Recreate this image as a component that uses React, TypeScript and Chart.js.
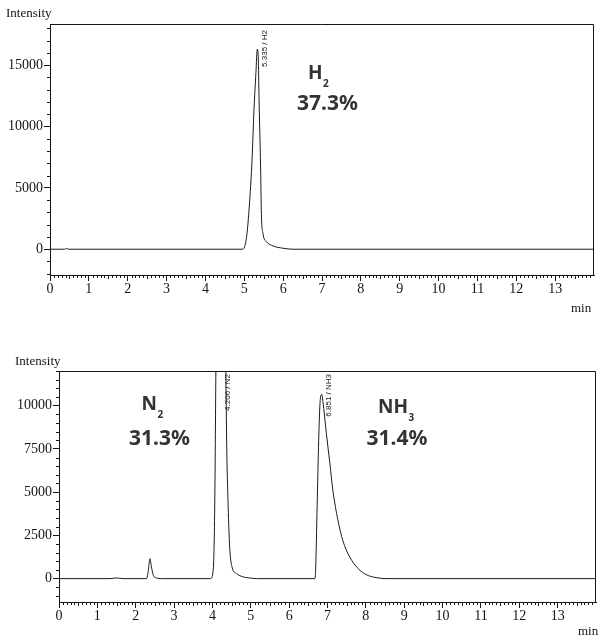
import React, { useEffect, useRef } from 'react';
import { Chart, registerables } from 'chart.js';

Chart.register(...registerables);

// ---------------- Data ----------------
// Top chromatogram (H2)
const h2Time = [0, 0.38, 0.43, 0.48, 4.95, 5.01, 5.07, 5.14, 5.2, 5.25, 5.3, 5.335, 5.36, 5.38, 5.42, 5.44, 5.48, 5.57, 5.74, 6.0, 6.25, 14];
const h2Intensity = [0, 0, 60, 0, 0, 220, 1300, 4000, 7300, 11400, 14400, 16300, 15600, 12200, 6700, 2900, 1300, 620, 270, 80, 0, 0];

// Bottom chromatogram (N2, NH3)
const nTime = [0, 1.33, 1.5, 1.67, 2.28, 2.33, 2.37, 2.41, 2.46, 2.54, 2.67, 3.95, 4.02, 4.06, 4.09, 4.15, 4.206, 4.27, 4.35, 4.37, 4.41, 4.45, 4.51, 4.63, 4.8, 4.97, 5.15, 6.67, 6.69, 6.73, 6.77, 6.81, 6.851, 6.88, 6.97, 7.06, 7.14, 7.27, 7.4, 7.58, 7.8, 8.01, 8.27, 8.53, 14];
const nIntensity = [0, 0, 40, 0, 0, 480, 1150, 680, 190, 40, 0, 0, 480, 4200, 12000, 27000, 33000, 24000, 12000, 8000, 4200, 1800, 680, 290, 100, 40, 0, 0, 480, 4200, 8000, 10300, 10650, 10250, 8400, 6700, 5100, 3400, 2200, 1250, 580, 230, 60, 0, 0];

// Ticks
const xTickValues = [0, 1, 2, 3, 4, 5, 6, 7, 8, 9, 10, 11, 12, 13];
const topYTicks = [0, 5000, 10000, 15000];
const bottomYTicks = [0, 2500, 5000, 7500, 10000];

// Peak annotations
const topPeakTimes = [5.335];
const topPeakNames = ['5.335 / H2'];
const bottomPeakTimes = [4.206, 6.851];
const bottomPeakNames = ['4.206 / N2', '6.851 / NH3'];

// Composition labels
const topGasMain = ['H'];
const topGasSub = ['2'];
const topGasPct = ['37.3%'];
const bottomGasMain = ['N', 'NH'];
const bottomGasSub = ['2', '3'];
const bottomGasPct = ['31.3%', '31.4%'];

const SERIF = '"Liberation Serif", "DejaVu Serif", serif';
const SANS = '"Liberation Sans", Arial, sans-serif';
const BOLD = '"Noto Sans", "Open Sans", sans-serif';
const INK = '#151515';

type GasPos = { mainX: number; mainY: number; pctX: number; pctY: number };

type Spec = {
  canvasTop: number;
  height: number;
  padTop: number;
  padRight: number;
  yWidth: number;
  xHeight: number;
  yMin: number;
  yMax: number;
  yMinorStep: number;
  yMajorStep: number;
  yTicks: number[];
  time: number[];
  intensity: number[];
  peakTimes: number[];
  peakNames: string[];
  peakTopOffset: number;
  gasMain: string[];
  gasSub: string[];
  gasPct: string[];
  gasPos: GasPos[];
  intensityX: number;
  intensityY: number;
  minX: number;
  minY: number;
};

function makeDecorPlugin(spec: Spec) {
  return {
    id: 'chromDecor',
    afterDraw(chart: any) {
      const ctx = chart.ctx as CanvasRenderingContext2D;
      const { left, right, top, bottom } = chart.chartArea;
      const xs = chart.scales.x;
      const ys = chart.scales.y;
      ctx.save();
      ctx.strokeStyle = INK;
      ctx.lineWidth = 1;
      // frame top & right
      ctx.beginPath();
      ctx.moveTo(left, Math.round(top) + 0.5);
      ctx.lineTo(Math.round(right) - 0.5, Math.round(top) + 0.5);
      ctx.lineTo(Math.round(right) - 0.5, Math.round(bottom));
      ctx.stroke();
      // minor x ticks
      ctx.beginPath();
      for (let i = 1; i < 140; i++) {
        if (i % 10 === 0) continue;
        const px = Math.round(xs.getPixelForValue(i / 10)) + 0.5;
        const len = i % 5 === 0 ? 4 : 3;
        ctx.moveTo(px, Math.round(bottom));
        ctx.lineTo(px, Math.round(bottom) + len);
      }
      // minor y ticks
      const start = Math.ceil(spec.yMin / spec.yMinorStep);
      const end = Math.floor(spec.yMax / spec.yMinorStep);
      for (let k = start; k <= end; k++) {
        const v = k * spec.yMinorStep;
        if (v % spec.yMajorStep === 0) continue;
        const py = Math.round(ys.getPixelForValue(v)) + 0.5;
        ctx.moveTo(Math.round(left) - 3, py);
        ctx.lineTo(Math.round(left), py);
      }
      ctx.stroke();

      // peak annotations (rotated)
      ctx.fillStyle = INK;
      ctx.font = `8px ${SANS}`;
      spec.peakTimes.forEach((t, i) => {
        const px = xs.getPixelForValue(t) + 7;
        ctx.save();
        ctx.translate(px, top + spec.peakTopOffset);
        ctx.rotate(-Math.PI / 2);
        ctx.textAlign = 'right';
        ctx.textBaseline = 'middle';
        ctx.fillText(spec.peakNames[i], 0, 0);
        ctx.restore();
      });

      // composition labels
      ctx.fillStyle = '#333333';
      ctx.textAlign = 'left';
      ctx.textBaseline = 'alphabetic';
      spec.gasMain.forEach((m, i) => {
        const p = spec.gasPos[i];
        ctx.font = `bold 19px ${BOLD}`;
        ctx.fillText(m, p.mainX, p.mainY);
        const w = ctx.measureText(m).width;
        ctx.font = `bold 10px ${BOLD}`;
        ctx.fillText(spec.gasSub[i], p.mainX + w + 0.5, p.mainY + 8);
        ctx.font = `bold 21px ${BOLD}`;
        ctx.fillText(spec.gasPct[i], p.pctX, p.pctY);
      });

      // axis titles
      ctx.fillStyle = INK;
      ctx.font = `13px ${SERIF}`;
      ctx.textBaseline = 'middle';
      ctx.fillText('Intensity', spec.intensityX, spec.intensityY);
      ctx.fillText('min', spec.minX, spec.minY);
      ctx.restore();
    },
  };
}

function makeConfig(spec: Spec): any {
  const data = spec.time.map((t, i) => ({ x: t, y: spec.intensity[i] }));
  return {
    type: 'line',
    data: {
      datasets: [
        {
          data,
          borderColor: '#1a1a1a',
          borderWidth: 1,
          pointRadius: 0,
          cubicInterpolationMode: 'monotone',
          fill: false,
        },
      ],
    },
    options: {
      responsive: false,
      animation: false,
      events: [],
      layout: { padding: { top: spec.padTop, right: spec.padRight, left: 0, bottom: 0 } },
      plugins: { legend: { display: false }, tooltip: { enabled: false }, title: { display: false } },
      scales: {
        x: {
          type: 'linear',
          min: 0,
          max: 14,
          afterBuildTicks: (s: any) => {
            s.ticks = xTickValues.map((v) => ({ value: v }));
          },
          afterFit: (s: any) => {
            s.height = spec.xHeight;
          },
          ticks: {
            autoSkip: false,
            maxRotation: 0,
            padding: 0,
            color: INK,
            font: { family: SERIF, size: 14 },
            callback: (v: any) => String(v),
          },
          grid: { display: true, drawOnChartArea: false, drawTicks: true, tickLength: 6, color: INK, lineWidth: 1 },
          border: { display: true, color: INK, width: 1 },
        },
        y: {
          type: 'linear',
          min: spec.yMin,
          max: spec.yMax,
          afterBuildTicks: (s: any) => {
            s.ticks = spec.yTicks.map((v) => ({ value: v }));
          },
          afterFit: (s: any) => {
            s.width = spec.yWidth;
          },
          ticks: {
            padding: 1,
            color: INK,
            font: { family: SERIF, size: 14 },
            callback: (v: any) => String(v),
          },
          grid: { display: true, drawOnChartArea: false, drawTicks: true, tickLength: 6, color: INK, lineWidth: 1 },
          border: { display: true, color: INK, width: 1 },
        },
      },
    },
    plugins: [makeDecorPlugin(spec)],
  };
}

const topSpec: Spec = {
  canvasTop: 0,
  height: 320,
  padTop: 24,
  padRight: 8,
  yWidth: 50,
  xHeight: 45,
  yMin: -2100,
  yMax: 18350,
  yMinorStep: 1000,
  yMajorStep: 5000,
  yTicks: topYTicks,
  time: h2Time,
  intensity: h2Intensity,
  peakTimes: topPeakTimes,
  peakNames: topPeakNames,
  peakTopOffset: 6,
  gasMain: topGasMain,
  gasSub: topGasSub,
  gasPct: topGasPct,
  gasPos: [{ mainX: 308, mainY: 79, pctX: 297, pctY: 110 }],
  intensityX: 6,
  intensityY: 14,
  minX: 571,
  minY: 309,
};

const bottomSpec: Spec = {
  canvasTop: 330,
  height: 309,
  padTop: 41,
  padRight: 6,
  yWidth: 59,
  xHeight: 37,
  yMin: -1350,
  yMax: 12000,
  yMinorStep: 500,
  yMajorStep: 2500,
  yTicks: bottomYTicks,
  time: nTime,
  intensity: nIntensity,
  peakTimes: bottomPeakTimes,
  peakNames: bottomPeakNames,
  peakTopOffset: 3,
  gasMain: bottomGasMain,
  gasSub: bottomGasSub,
  gasPct: bottomGasPct,
  gasPos: [
    { mainX: 141.5, mainY: 80, pctX: 129, pctY: 115 },
    { mainX: 378, mainY: 83, pctX: 366.5, pctY: 115 },
  ],
  intensityX: 15,
  intensityY: 32,
  minX: 578,
  minY: 302,
};

function ChromChart({ spec }: { spec: Spec }) {
  const ref = useRef<HTMLCanvasElement>(null);
  useEffect(() => {
    const chart = new Chart(ref.current as HTMLCanvasElement, makeConfig(spec));
    return () => chart.destroy();
  }, [spec]);
  return (
    <canvas
      ref={ref}
      width={602}
      height={spec.height}
      style={{ position: 'absolute', left: 0, top: spec.canvasTop, width: 602, height: spec.height }}
    />
  );
}

export default function App() {
  return (
    <div style={{ position: 'fixed', left: 0, top: 0, width: 602, height: 639, background: '#fff', overflow: 'hidden' }}>
      <ChromChart spec={topSpec} />
      <ChromChart spec={bottomSpec} />
    </div>
  );
}
